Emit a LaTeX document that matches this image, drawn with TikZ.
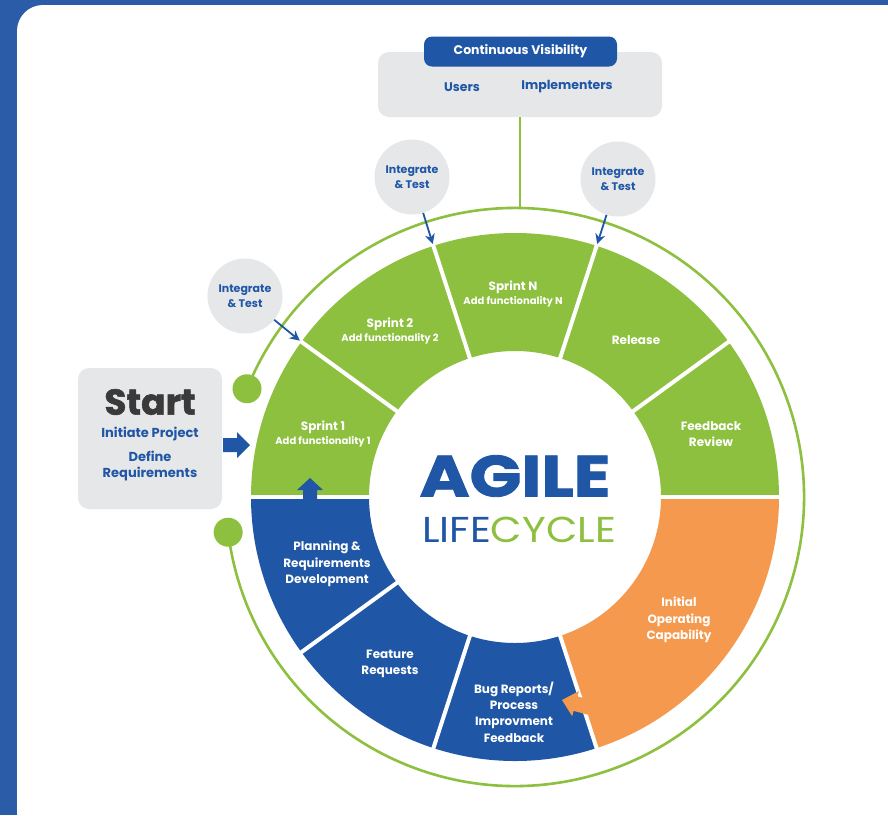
\documentclass[tikz,border=0pt]{standalone}
\usepackage{fontspec}
\setmainfont{Poppins}
\usetikzlibrary{arrows.meta,calc}
\definecolor{agreen}{HTML}{8DC03F}
\definecolor{ablue}{HTML}{1F56A6}
\definecolor{aorange}{HTML}{F4994D}
\definecolor{agray}{HTML}{E6E7E8}
\definecolor{adark}{HTML}{3A3A3A}
\definecolor{abg}{HTML}{2A5CA8}
\newcommand\segfont{\bfseries\fontsize{12}{16.3}\selectfont}
\newcommand\subfont{\bfseries\fontsize{10}{12}\selectfont}
\newcommand\agsector[4]{\fill[#1] (#2:146) arc[start angle=#2,end angle=#3,radius=146] -- (#3:264) arc[start angle=#3,end angle=#2,radius=264] -- cycle;}
\begin{document}
\begin{tikzpicture}[x=1pt,y=1pt,
  graybox/.style={fill=agray, rounded corners=11pt, draw=none},
  bluebox/.style={fill=ablue, rounded corners=8pt, text=white, font=\bfseries\fontsize{12.5}{14}\selectfont},
  bluetext/.style={text=ablue, font=\bfseries\fontsize{12.5}{14}\selectfont, inner sep=0pt, align=center},
  segtext/.style={text=white, font=\segfont, inner sep=0pt, align=center},
  itcircle/.style={circle, fill=agray, minimum size=75pt, inner sep=0pt, text=ablue, align=center, font=\bfseries\fontsize{11}{15}\selectfont},
  dot/.style={circle, fill=agreen, minimum size=29pt, inner sep=0pt},
  ringline/.style={draw=agreen, line width=2.6pt},
  bluearrow/.style={draw=ablue, line width=1.8pt, -{Stealth[length=10pt,width=10pt]}},
  sep/.style={draw=white, line width=4pt}
]
\useasboundingbox (0,0) rectangle (888,-815);
\fill[abg] (0,0) rectangle (888,-815);
\fill[white, rounded corners=26pt] (17,-5) rectangle (930,-850);

% top visibility box
\node[graybox, minimum width=284pt, minimum height=65pt] (vis) at (520,-84.5) {};
\node[bluebox, minimum width=193pt, minimum height=30pt, inner sep=0pt] (cvis) at (520.5,-51.5) {Continuous Visibility};
\node[bluetext] (users) at (462,-87) {Users};
\node[bluetext] (impl) at (567,-87) {Implementers};
\coordinate (ringtop) at (520,-208);
\draw[ringline] (vis.south) -- (ringtop);

% start box
\node[graybox, minimum width=144pt, minimum height=141pt] (startbox) at (150,-438.5) {};
\node[text=adark, font=\bfseries\fontsize{36}{36}\selectfont, inner sep=0pt] (start) at (150,-402) {\addfontfeature{FakeBold=1.5}Start};
\node[bluetext, font=\bfseries\fontsize{13}{16}\selectfont] (init) at (150,-434) {Initiate Project};
\node[bluetext, font=\bfseries\fontsize{13}{16}\selectfont] (defreq) at (150,-466) {Define\\Requirements};

\begin{scope}[shift={(515,-497)}]
  % sectors
  \agsector{agreen}{0}{180}{}
  \agsector{ablue}{180}{288}{}
  \agsector{aorange}{288}{360}{}
  \foreach \a in {0,36,72,108,144,180,216,252,288}
    \draw[sep] (\a:140) -- (\a:270);
  % outer ring
  \node[dot] (dot1) at (158:289) {};
  \node[dot] (dot2) at (187:289) {};
  \draw[ringline] (158:289) arc[start angle=158, end angle=-173, radius=289];
  % arrow targets
  \coordinate (t1) at (144:266);
  \coordinate (t2) at (108:266);
  \coordinate (t3) at (72:266);
\end{scope}

% integrate & test circles
\node[itcircle] (it1) at (245,-296) {Integrate\\\& Test};
\node[itcircle] (it2) at (412,-177) {Integrate\\\& Test};
\node[itcircle] (it3) at (618,-179) {Integrate\\\& Test};
\draw[bluearrow] (it1) -- (t1);
\draw[bluearrow] (it2) -- (t2);
\draw[bluearrow] (it3) -- (t3);

% block arrows
\fill[ablue] (223,-438) -- (237,-438) -- (237,-432) -- (250,-445) -- (237,-458) -- (237,-452) -- (223,-452) -- cycle;
\fill[ablue] (303,-502) -- (303,-490) -- (297,-490) -- (310,-478) -- (323,-490) -- (317,-490) -- (317,-502) -- cycle;
\begin{scope}[shift={(562,-700)}, rotate=-15]
  \fill[aorange] (0,0) -- (14,13) -- (14,7.5) -- (29,7.5) -- (29,-7.5) -- (14,-7.5) -- (14,-13) -- cycle;
\end{scope}

% segment labels
\node[segtext] (s1) at (323,-434) {Sprint 1\\[-2pt]{\subfont Add functionality 1}};
\node[segtext] (s2) at (390,-331) {Sprint 2\\[-2pt]{\subfont Add functionality 2}};
\node[segtext] (sn) at (513,-294) {Sprint N\\[-2pt]{\subfont Add functionality N}};
\node[segtext] (rel) at (636,-340) {Release};
\node[segtext] (fb) at (711,-434) {Feedback\\Review};
\node[segtext] (plan) at (327,-564) {Planning \&\\Requirements\\Development};
\node[segtext] (feat) at (390,-664) {Feature\\Requests};
\node[segtext] (bug) at (514,-712) {Bug Reports/\\Process\\Improvment\\Feedback};
\node[segtext] (ioc) at (679,-620) {Initial\\Operating\\Capability};

% center title
\node[text=ablue, font=\bfseries\fontsize{58}{58}\selectfont, inner sep=0pt] (agile) at (515,-476) {\scalebox{1.17}[1]{\addfontfeature{FakeBold=1.5}AGILE}};
\node[font=\fontsize{36}{36}\selectfont, inner sep=0pt] (life) at (519,-530) {\scalebox{1.13}[1]{\textcolor{ablue}{LIFE}\textcolor{agreen}{CYCLE}}};
\end{tikzpicture}
\end{document}
